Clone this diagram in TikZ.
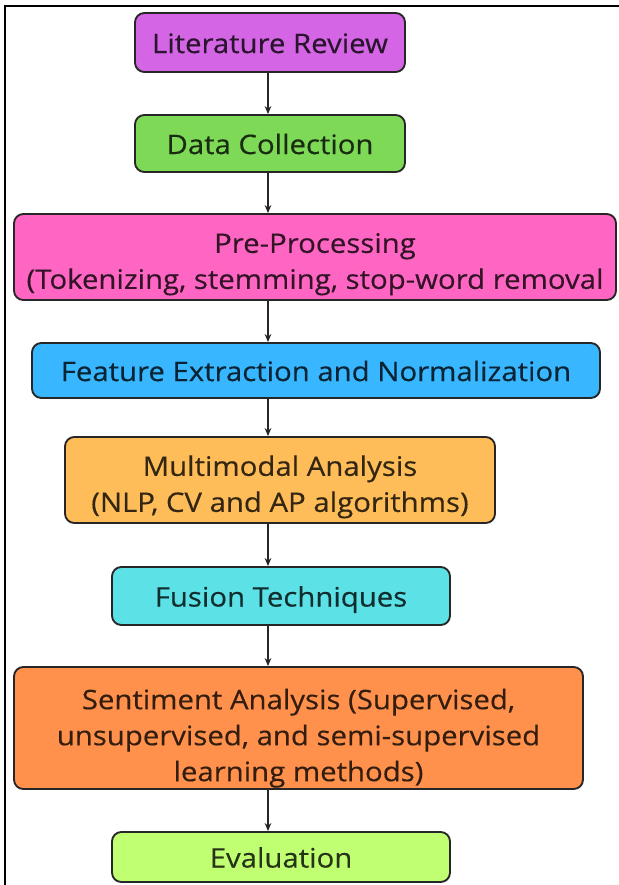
\documentclass[tikz,border=0pt]{standalone}
\usepackage{fontspec}
\setmainfont{Open Sans}
\newfontfamily\boxfont{Open Sans}[FakeBold=0.35]
\usetikzlibrary{arrows.meta}
\definecolor{cpurple}{HTML}{D466E6}
\definecolor{cgreen}{HTML}{7ED957}
\definecolor{cpink}{HTML}{FF66C4}
\definecolor{cblue}{HTML}{38B6FF}
\definecolor{corange}{HTML}{FFBD59}
\definecolor{ccyan}{HTML}{5CE1E6}
\definecolor{corange2}{HTML}{FF914D}
\definecolor{clime}{HTML}{C1FF72}
\newcommand{\bt}[2][-2.5pt]{\raisebox{#1}[\height][\depth]{\scalebox{1.31}[1.2]{\begin{tabular}{@{}c@{}}#2\end{tabular}}}}
\begin{document}
\begin{tikzpicture}[x=0.75pt,y=-0.75pt,
  box/.style={draw=black!85, line width=1.4pt, rounded corners=7pt, align=center,
    inner sep=0pt, font=\boxfont\fontsize{16.8}{22.5}\selectfont},
  arr/.style={-{Stealth[length=6pt,width=5pt]}, line width=1.1pt, black!85}]
\useasboundingbox (0,0) rectangle (618,885);
\fill[white] (0,0) rectangle (618,885);
\draw[line width=1pt] (5,900) -- (5,6) -- (640,6);
\coordinate (ax) at (268,0);
\node[box, fill=cpurple, text=cpurple!20!black, minimum width=270*0.75pt, minimum height=59*0.75pt] (lit) at (270,42.5) {\bt{Literature Review}};
\node[box, fill=cgreen, text=cgreen!20!black, minimum width=270*0.75pt, minimum height=57*0.75pt] (data) at (270,143.5) {\bt{Data Collection}};
\node[box, fill=cpink, text=cpink!20!black, minimum width=602*0.75pt, minimum height=86*0.75pt] (pre) at (315,257) {\bt[-5pt]{Pre-Processing\\(Tokenizing, stemming, stop-word removal}};
\node[box, fill=cblue, text=cblue!20!black, minimum width=568*0.75pt, minimum height=55*0.75pt] (feat) at (316,370.5) {\bt{Feature Extraction and Normalization}};
\node[box, fill=corange, text=corange!20!black, minimum width=430*0.75pt, minimum height=86*0.75pt] (multi) at (280,480) {\bt[-5pt]{Multimodal Analysis\\(NLP, CV and AP algorithms)}};
\node[box, fill=ccyan, text=ccyan!20!black, minimum width=338*0.75pt, minimum height=58*0.75pt] (fus) at (281,596) {\bt{Fusion Techniques}};
\node[box, fill=corange2, text=corange2!20!black, minimum width=569*0.75pt, minimum height=122*0.75pt] (sent) at (298.5,728) {\bt[-7.5pt]{Sentiment Analysis (Supervised,\\unsupervised, and semi-supervised\\learning methods)}};
\node[box, fill=clime, text=clime!20!black, minimum width=338*0.75pt, minimum height=50*0.75pt] (eval) at (281,857) {\bt{Evaluation}};
\draw[arr] (lit.south -| ax) -- (data.north -| ax);
\draw[arr] (data.south -| ax) -- (pre.north -| ax);
\draw[arr] (pre.south -| ax) -- (feat.north -| ax);
\draw[arr] (feat.south -| ax) -- (multi.north -| ax);
\draw[arr] (multi.south -| ax) -- (fus.north -| ax);
\draw[arr] (fus.south -| ax) -- (sent.north -| ax);
\draw[arr] (sent.south -| ax) -- (eval.north -| ax);
\end{tikzpicture}
\end{document}
